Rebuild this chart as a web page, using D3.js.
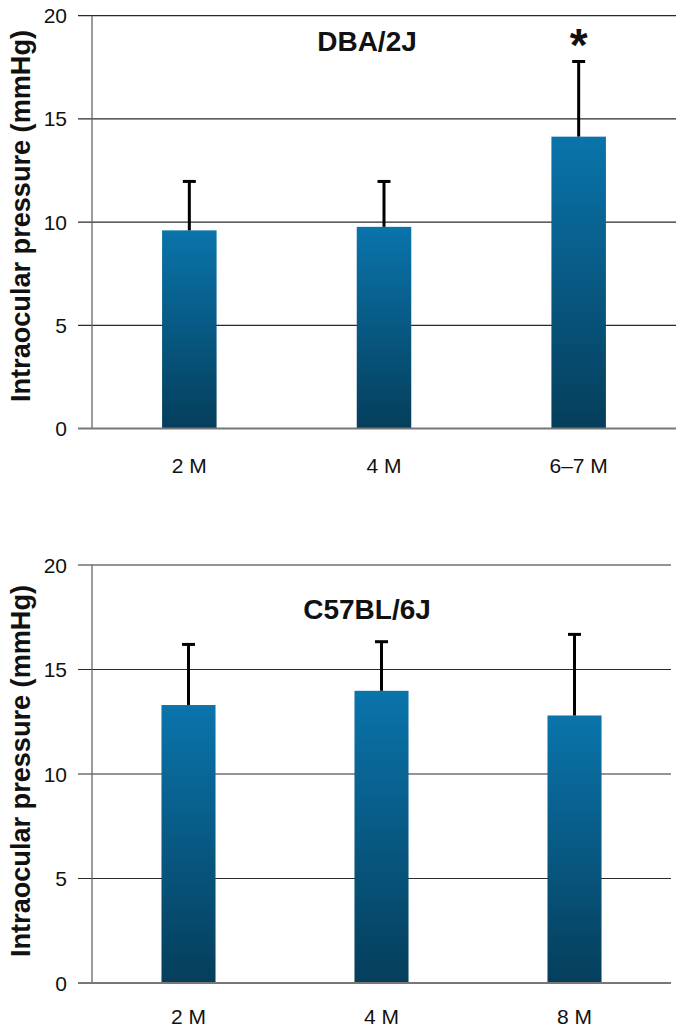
<!DOCTYPE html>
<html>
<head>
<meta charset="utf-8">
<script src="https://cdn.jsdelivr.net/npm/d3@7/dist/d3.min.js"></script>
<style>
  html, body { margin: 0; padding: 0; background: #fff; }
  svg { display: block; font-family: "Liberation Sans", Arial, sans-serif; }
</style>
</head>
<body>
<svg id="chart" width="683" height="1030"></svg>
<script>
// ---- data ----
const yTicks = [0, 5, 10, 15, 20];
const yLabel = "Intraocular pressure (mmHg)";

const dbaTitle = "DBA/2J";
const dbaCategories = ["2 M", "4 M", "6–7 M"];
const dbaMeans = [9.6, 9.77, 14.14];
const dbaSD = [2.37, 2.2, 3.64];
const dbaSignificant = [false, false, true];

const c57Title = "C57BL/6J";
const c57Categories = ["2 M", "4 M", "8 M"];
const c57Means = [13.3, 13.98, 12.8];
const c57SD = [2.9, 2.35, 3.88];
const c57Significant = [false, false, false];

const svg = d3.select("#chart");

const defs = svg.append("defs");
const grad = defs.append("linearGradient")
  .attr("id", "barGrad").attr("x1", 0).attr("y1", 0).attr("x2", 0).attr("y2", 1);
grad.append("stop").attr("offset", "0%").attr("stop-color", "#0a74ab");
grad.append("stop").attr("offset", "100%").attr("stop-color", "#053e5b");

function panel(cfg) {
  const { top, bottom, left, right, title, titleY, cats, means, sd, sig, labelY, yTitleCenter } = cfg;
  const g = svg.append("g");
  const y = d3.scaleLinear().domain([0, 20]).range([bottom, top]);
  const x = d3.scaleBand().domain(cats).range([left, right]).paddingInner(0.72).paddingOuter(0.36);

  // gridlines + ticks
  g.append("g").selectAll("line").data(yTicks.filter(t => t > 0)).join("line")
    .attr("x1", left - 14).attr("x2", right)
    .attr("y1", d => y(d)).attr("y2", d => y(d))
    .attr("stroke", "#2a2a2a").attr("stroke-width", 1.2);

  // tick labels
  g.append("g").selectAll("text").data(yTicks).join("text")
    .attr("x", left - 25).attr("y", d => y(d))
    .attr("text-anchor", "end").attr("dominant-baseline", "central")
    .attr("font-size", 21).attr("fill", "#111")
    .text(d => d);

  // bars
  g.append("g").selectAll("rect").data(cats).join("rect")
    .attr("x", d => x(d)).attr("width", x.bandwidth())
    .attr("y", (d, i) => y(means[i])).attr("height", (d, i) => y(0) - y(means[i]))
    .attr("fill", "url(#barGrad)");

  // error bars (upper only)
  const eb = g.append("g").attr("stroke", "#000").attr("stroke-width", 3);
  cats.forEach((c, i) => {
    const cx = x(c) + x.bandwidth() / 2;
    eb.append("line").attr("x1", cx).attr("x2", cx)
      .attr("y1", y(means[i])).attr("y2", y(means[i] + sd[i]));
    eb.append("line").attr("x1", cx - 6.5).attr("x2", cx + 6.5)
      .attr("y1", y(means[i] + sd[i])).attr("y2", y(means[i] + sd[i]));
    if (sig[i]) {
      g.append("text").attr("x", cx).attr("y", y(means[i] + sd[i]) - 0.5)
        .attr("text-anchor", "middle").attr("font-size", 46).attr("font-weight", "bold")
        .attr("fill", "#111").text("*");
    }
  });

  // axes lines
  g.append("line").attr("x1", left).attr("x2", left).attr("y1", top).attr("y2", bottom)
    .attr("stroke", "#666").attr("stroke-width", 1.3);
  g.append("line").attr("x1", left - 14).attr("x2", right).attr("y1", bottom).attr("y2", bottom)
    .attr("stroke", "#777").attr("stroke-width", 2);

  // x labels
  g.append("g").selectAll("text").data(cats).join("text")
    .attr("x", d => x(d) + x.bandwidth() / 2).attr("y", labelY)
    .attr("text-anchor", "middle").attr("font-size", 21).attr("fill", "#111")
    .text(d => d);

  // panel title
  g.append("text").attr("x", 367).attr("y", titleY)
    .attr("text-anchor", "middle").attr("font-size", 28).attr("font-weight", "bold")
    .attr("fill", "#111").text(title);

  // y title
  g.append("text")
    .attr("transform", `translate(30,${yTitleCenter}) rotate(-90)`)
    .attr("text-anchor", "middle").attr("font-size", 28).attr("font-weight", "bold")
    .attr("fill", "#111")
    .attr("textLength", 372).attr("lengthAdjust", "spacingAndGlyphs")
    .text(yLabel);
}

panel({ top: 15.7, bottom: 428.5, left: 92, right: 676, title: dbaTitle, titleY: 51,
  cats: dbaCategories, means: dbaMeans, sd: dbaSD, sig: dbaSignificant, labelY: 473, yTitleCenter: 216 });
panel({ top: 565, bottom: 983, left: 92, right: 671, title: c57Title, titleY: 619,
  cats: c57Categories, means: c57Means, sd: c57SD, sig: c57Significant, labelY: 1024, yTitleCenter: 771 });
</script>
</body>
</html>
